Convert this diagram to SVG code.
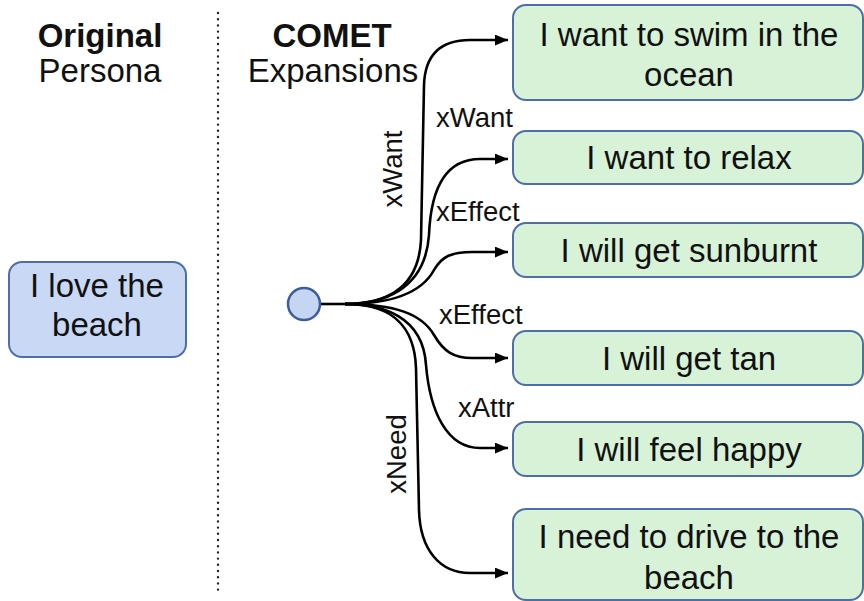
<svg xmlns="http://www.w3.org/2000/svg" width="864" height="601" viewBox="0 0 864 601">
  <defs>
    <marker id="arrow" viewBox="0 0 12 10" refX="12" refY="5" markerWidth="13" markerHeight="11" markerUnits="userSpaceOnUse" orient="auto">
      <path d="M0,0 L12,5 L0,10 Z" fill="#000"/>
    </marker>
    <style>
      text { font-family: "Liberation Sans", Arial, Helvetica, sans-serif; fill: #111; }
      .head { font-size: 33px; text-anchor: middle; }
      .bold { font-weight: bold; }
      .node { font-size: 33px; text-anchor: middle; }
      .lbl { font-size: 27.5px; }
      .vlbl { font-size: 27.5px; text-anchor: middle; }
      .green { fill: #d8f2d8; stroke: #4d6fa8; stroke-width: 2; }
      .blue { fill: #c9d8f5; stroke: #4d6fa8; stroke-width: 2; }
      .edge { fill: none; stroke: #000; stroke-width: 2.6; marker-end: url(#arrow); }
    </style>
  </defs>
  <rect width="864" height="601" fill="#fff"/>

  <!-- column headings -->
  <g id="headings">
    <text class="head bold" x="100" y="47">Original</text>
    <text class="head" x="100" y="82">Persona</text>
    <text class="head bold" x="332" y="47">COMET</text>
    <text class="head" x="333" y="82">Expansions</text>
  </g>

  <!-- dotted divider -->
  <line x1="218" y1="13" x2="218" y2="592" stroke="#222" stroke-width="2.4" stroke-linecap="round" stroke-dasharray="0 6.2"/>

  <!-- connectors -->
  <g id="connectors">
    <path d="M320,304 H352" fill="none" stroke="#000" stroke-width="2.6"/>
    <path class="edge" d="M345,304 C372,304 418,298 421,240 L424,85 C425,55 440,40 470,40 L508,40"/>
    <path class="edge" d="M345,304 C380,304 425,292 429,235 C431,185 447,159 480,159 L508,159"/>
    <path class="edge" d="M345,304 C395,304 422,292 434,270 C442,256 452,252 472,252 L508,252"/>
    <path class="edge" d="M345,304 C395,304 422,314 434,335 C444,352 454,358 472,358 L508,358"/>
    <path class="edge" d="M345,304 C382,304 423,316 426,365 C430,412 447,448 480,448 L508,448"/>
    <path class="edge" d="M345,304 C372,304 414,310 416,368 L419,510 C420,550 440,573 470,573 L508,573"/>
    <text class="vlbl" transform="translate(402,169) rotate(-90)">xWant</text>
    <text class="lbl" x="436" y="127">xWant</text>
    <text class="lbl" x="436" y="221">xEffect</text>
    <text class="lbl" x="439" y="324">xEffect</text>
    <text class="lbl" x="458" y="417">xAttr</text>
    <text class="vlbl" transform="translate(406,454) rotate(-90)">xNeed</text>
  </g>

  <!-- persona node -->
  <g id="persona">
    <rect class="blue" x="9" y="262" width="177" height="95" rx="13"/>
    <text class="node" x="97" y="297">I love the</text>
    <text class="node" x="97" y="336">beach</text>
  </g>

  <!-- hub -->
  <g id="hub">
    <circle cx="304" cy="304" r="16" fill="#c6d5f2" stroke="#3c5d9c" stroke-width="2.5"/>
  </g>

  <!-- expansion nodes -->
  <g id="swim">
    <rect class="green" x="513" y="5" width="350" height="95" rx="13"/>
    <text class="node" x="689" y="46">I want to swim in the</text>
    <text class="node" x="689" y="86">ocean</text>
  </g>
  <g id="relax">
    <rect class="green" x="513" y="131" width="350" height="53" rx="13"/>
    <text class="node" x="689" y="169">I want to relax</text>
  </g>
  <g id="sunburnt">
    <rect class="green" x="513" y="223" width="350" height="54" rx="13"/>
    <text class="node" x="689" y="262">I will get sunburnt</text>
  </g>
  <g id="tan">
    <rect class="green" x="513" y="331" width="350" height="54" rx="13"/>
    <text class="node" x="689" y="370">I will get tan</text>
  </g>
  <g id="happy">
    <rect class="green" x="513" y="422" width="350" height="54" rx="13"/>
    <text class="node" x="689" y="461">I will feel happy</text>
  </g>
  <g id="drive">
    <rect class="green" x="513" y="509" width="350" height="91" rx="13"/>
    <text class="node" x="689" y="548">I need to drive to the</text>
    <text class="node" x="689" y="589">beach</text>
  </g>
</svg>
